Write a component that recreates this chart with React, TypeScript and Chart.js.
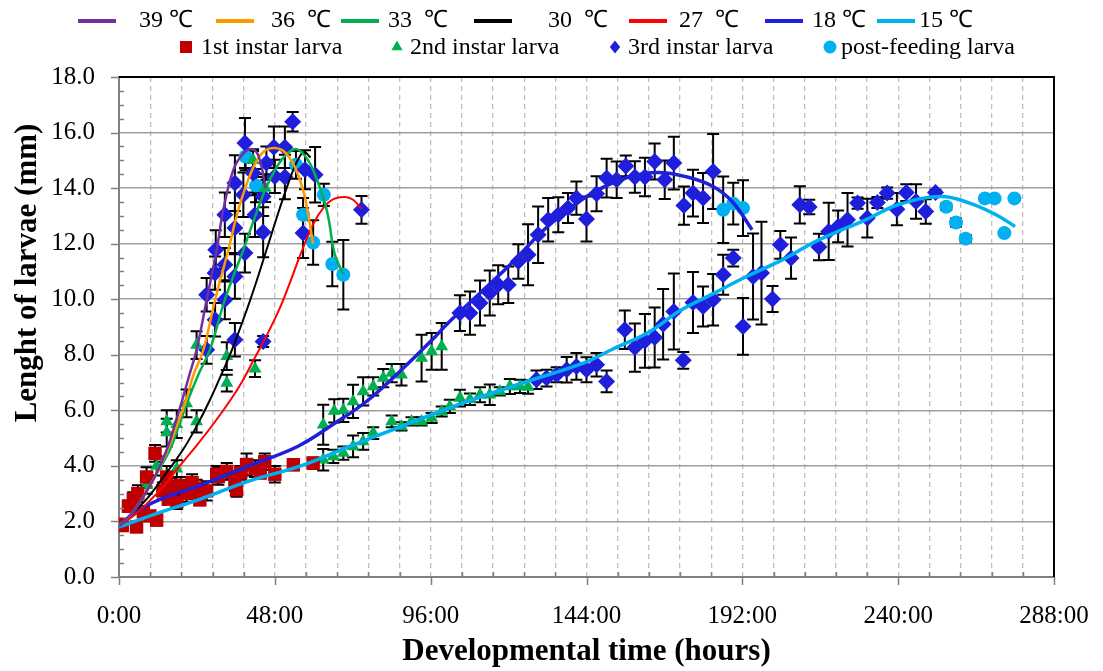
import React, { useEffect, useRef } from 'react';
import { Chart, registerables } from 'chart.js';

Chart.register(...registerables);

const SERIF = '"Liberation Serif", "Times New Roman", Times, serif';

// ---------- axes ----------
const X_MAX = 288;
const X_MINOR = 9.6;
const X_MAJOR = 48;
const Y_MAX = 18;
const Y_STEP = 2;
const Y_MINOR = 0.5;
const xTitle = 'Developmental time (hours)';
const yTitle = 'Lenght of larvae (mm)';

// ---------- legend ----------
const tempLabels = ['39 ℃', '36  ℃', '33  ℃', '30  ℃', '27  ℃', '18 ℃', '15 ℃'];
const tempColors = ['#7030A0', '#FF9900', '#00B050', '#000000', '#FF0000', '#2020D8', '#00B0F0'];
const stageLabels = ['1st instar larva', '2nd instar larva', '3rd instar larva', 'post-feeding larva'];
const stageColors = ['#C00000', '#00B050', '#1F1FDB', '#00B0F0'];
const stageShapes = ['rect', 'triangle', 'rectRot', 'circle'];

type Pt = [number, number];
type EPt = [number, number, number];

// ---------- fitted curves (hours, mm) ----------
const curve39: Pt[] = [[0,1.85],[4,2.3],[7,2.8],[11,3.6],[14.7,4.58],[17,5.4],[19.5,6.38],[21.5,7.2],[23.9,8.18],[27,9.98],[30.1,11.78],[32.1,13.2],[35.2,14.65],[38.3,15.25],[41,15.4],[43,15.15],[45.2,14.0]];
const curve36: Pt[] = [[0,1.85],[4,2.3],[7,2.8],[11,3.6],[15,4.58],[18,5.5],[20.7,6.38],[23,7.3],[26,8.18],[29.6,9.98],[33.7,11.78],[36,12.9],[38.3,13.8],[42,14.9],[45,15.35],[48,15.44],[51,15.3],[54,14.8],[57,13.8],[59.8,12.0]];
const curve33: Pt[] = [[0,1.85],[4,2.3],[7,2.8],[11,3.6],[15.7,4.58],[18,5.3],[21.3,6.38],[24.5,7.3],[28,8.18],[32.6,9.98],[38.3,11.78],[42,13.0],[45.5,14.06],[50,15.0],[54,15.4],[57,15.2],[60,14.6],[64,13.2],[66.5,11.6],[69.1,10.9]];
const curve30: Pt[] = [[0,1.85],[5,2.4],[8.5,2.8],[14,3.65],[19.8,4.6],[24,5.45],[27.7,6.3],[31,7.15],[34.7,8.15],[39.3,9.6],[42.5,10.7],[45.5,11.8],[49.6,13.3],[52.7,14.35],[55,15.0],[57,15.3],[59,15.1]];
const curve27: Pt[] = [[0,1.85],[5,2.25],[9.5,2.75],[14,3.3],[18,3.9],[24,4.75],[29,5.5],[34.5,6.4],[38,7.05],[41.4,7.8],[45.5,8.7],[49.6,9.7],[52.5,10.55],[55.7,11.55],[59.8,12.7],[63,13.3],[66,13.6],[69.6,13.68],[72.1,13.58],[74.7,13.25]];
const curve18: Pt[] = [[0,1.85],[7.5,2.5],[15,2.9],[25,3.3],[40,4.0],[55,4.7],[66,5.5],[76,6.3],[86.5,7.4],[97,8.6],[101,9.1],[111,10.2],[121,11.3],[130,12.4],[138,13.2],[147,13.9],[157,14.4],[166,14.56],[175,14.4],[183,14.06],[189,13.5],[195,12.5]];
const curve15: Pt[] = [[0,1.8],[12,2.3],[25,2.8],[40,3.45],[56,4.0],[71,4.7],[86.5,5.4],[102,6.1],[122,6.9],[143,7.7],[152,8.2],[163,8.8],[173,9.6],[183,10.2],[193,10.8],[204,11.4],[215,12.1],[230,12.86],[240,13.4],[253,13.7],[262,13.46],[270,13.05],[276,12.62]];

// ---------- observations [hours, mm, sd] ----------
const instar1: EPt[] = [[0,1.9,0.1],[1,1.85,0.1],[2.9,2.55,0.2],[4.4,2.8,0.25],[5.4,1.8,0.1],[5.8,3.0,0.3],[7.5,2.35,0.2],[8.5,3.6,0.35],[9.5,2.2,0.1],[11.1,4.45,0.3],[11.6,2.05,0.2],[13.5,3.1,0.3],[14.7,3.6,0.4],[15.2,2.8,0.2],[16.2,3.26,0.3],[17.8,2.7,0.25],[19,3.3,0.3],[20.8,3.0,0.3],[22.5,3.4,0.3],[23.9,3.2,0.3],[24.9,2.78,0.2],[27,3.1,0.35],[30.1,3.7,0.3],[30.6,3.62,0.3],[33.2,3.8,0.3],[35.7,3.4,0.3],[36.2,3.14,0.25],[37.5,3.75,0.25],[39.3,4.05,0.4],[41.9,3.9,0.3],[43.5,3.75,0.2],[44.9,4.15,0.3],[48,3.7,0.3],[53.7,4.04,0.2],[59.8,4.1,0.2]];

const instar2: EPt[] = [[8.5,3.3,0.3],[11.6,4.0,0.35],[14.7,5.2,0.5],[14.7,5.6,0.4],[17.8,5.5,0.5],[17.8,3.9,0.3],[20.8,6.25,0.5],[23.9,5.6,0.4],[23.9,8.35,0.5],[33.2,7.95,0.5],[33.2,6.98,0.3],[41.9,7.5,0.3],[41.3,15.0,0.4],[45,14.0,0.5],
  [62.9,5.48,0.72],[66.3,5.98,0.42],[69.1,6.0,0.42],[72.1,6.32,0.6],[75.2,6.68,0.51],[78.3,6.86,0.33],[81.4,7.16,0.33],[84,7.34,0.33],[87,7.28,0.39],[93.2,7.88,0.84],[96.3,8.12,0.66],[99.4,8.3,0.84],
  [62.9,4.22,0.39],[66,4.34,0.24],[69.1,4.46,0.24],[72.1,4.7,0.39],[75.2,4.88,0.3],[78.3,5.18,0.21],[84,5.6,0.21],[87,5.42,0.15],[90.1,5.6,0.15],[93.2,5.6,0.15],[96.3,5.72,0.18],[99.4,5.96,0.18],[101.9,6.14,0.24],[105,6.44,0.3],[108.1,6.4,0.21],[111.2,6.56,0.27],[114.2,6.56,0.37],[117.3,6.68,0.15],[120.4,6.86,0.27],[123.5,6.86,0.24],[126,6.84,0.24]];

const instar3: EPt[] = [[27,8.18,0.5],[27,10.16,0.6],[29.6,9.26,0.6],[29.6,10.94,0.6],[29.8,11.78,0.7],[32.6,9.98,0.7],[32.6,11.24,0.6],[32.6,13.04,0.8],[35.7,8.54,0.6],[35.7,10.82,0.8],[35.7,12.56,0.9],[35.7,14.18,1.0],[38.3,13.76,0.8],[38.8,11.66,0.7],[38.8,15.62,0.9],[41.3,14.54,0.8],[41.9,13.04,0.8],[44.4,8.48,0.2],[44.4,12.41,0.9],[44.4,13.7,0.7],[45.4,14.9,0.6],[47.7,15.47,0.75],[48,14.42,0.6],[51.1,15.47,0.75],[51.1,14.4,0.8],[53.5,16.39,0.35],[56.7,12.38,0.9],[57.3,14.66,0.7],[60.4,14.48,1.0],[74.7,13.22,0.5],
  [105,9.5,0.64],[108.1,9.5,0.78],[111.2,9.86,0.81],[114.2,10.22,0.81],[116.8,10.52,0.7],[119.9,10.52,0.66],[123,11.36,0.62],[126,11.6,1.1],[129.1,12.32,1.02],[132.2,12.86,0.78],[135.3,13.04,0.63],[138.3,13.28,0.54],[140.9,13.64,0.6],[144,12.89,0.81],[147.1,13.8,0.63],[150.2,14.36,0.7],[153.3,14.3,0.66],[156.1,14.8,0.37],[158.9,14.4,0.57],[162,14.4,0.69],[165,14.96,0.65],[168.1,14.3,0.69],[170.9,14.9,0.95],[174,13.37,0.69],[176.8,13.82,0.84],[179.9,13.64,0.9],[183,14.6,1.35],
  [128.6,7.1,0.33],[131.7,7.16,0.3],[134.8,7.28,0.27],[137.9,7.46,0.46],[140.9,7.58,0.48],[144,7.46,0.45],[147.1,7.64,0.42],[150.2,7.04,0.39],[155.8,8.9,0.69],[158.9,8.26,0.87],[162,8.5,0.97],[165,8.62,1.08],[167.6,9.1,1.27],[170.9,9.56,1.37],[173.8,7.8,0.3],[176.8,9.88,1.1],[179.9,9.74,0.72],[183,9.98,0.93],[186.1,10.88,0.72],[189.2,11.48,0.3],[192.2,9.02,1.02],[195.3,10.82,1.55],[197.9,10.94,1.85],[201.3,10.01,0.47],[203.7,11.96,0.5],[207,11.48,0.74],[209.7,13.4,0.67],[212.6,13.32,0.26],[215.6,11.88,0.48],[218.6,12.44,1.03],[221.5,12.62,0.57],[224.4,12.86,0.96],[227.5,13.46,0.2],[230.5,12.92,0.7],[233.6,13.48,0.2],[236.6,13.82,0.2],[239.6,13.24,0.58],[242.5,13.84,0.3],[245.5,13.52,0.62],[248.5,13.16,0.44],[251.5,13.84,0.1]];

const postFeeding: EPt[] = [[39,15.14,0.5],[42.2,14.09,0.6],[54.5,14.84,0.5],[56.7,13.04,0.6],[59.8,12.04,0.8],[63.1,13.76,0.4],[65.7,11.27,0.8],[69.1,10.88,1.25],
  [186.1,13.22,1.2],[189.2,13.44,0.75],[192.2,13.28,1.0],
  [254.8,13.33,0.12],[257.8,12.76,0.15],[260.8,12.18,0.13],[266.7,13.63,0.05],[269.7,13.63,0.05],[272.7,12.38,0],[275.8,13.63,0]];

const curves = [curve39, curve36, curve33, curve30, curve27, curve18, curve15];
const curveWidths = [2.5, 2.5, 2.5, 2, 2, 3.5, 3.5];
const stages = [instar1, instar2, instar3, postFeeding];
const stageRadius = [9.5, 7.5, 8.5, 7];

const xTickValues = Array.from({ length: Math.round(X_MAX / X_MINOR) + 1 }, (_, i) => Math.round(i * X_MINOR * 10) / 10);

function drawMarker(ctx: CanvasRenderingContext2D, shape: string, x: number, y: number, r: number) {
  ctx.beginPath();
  if (shape === 'rect') {
    const s = r * Math.SQRT1_2;
    ctx.rect(x - s, y - s, 2 * s, 2 * s);
  } else if (shape === 'triangle') {
    ctx.moveTo(x, y - r);
    ctx.lineTo(x + r * 0.866, y + r * 0.5);
    ctx.lineTo(x - r * 0.866, y + r * 0.5);
    ctx.closePath();
  } else if (shape === 'rectRot') {
    ctx.moveTo(x, y - r);
    ctx.lineTo(x + r * 0.8, y);
    ctx.lineTo(x, y + r);
    ctx.lineTo(x - r * 0.8, y);
    ctx.closePath();
  } else {
    ctx.arc(x, y, r, 0, Math.PI * 2);
  }
  ctx.fill();
}

const decorPlugin = {
  id: 'decor',
  beforeDatasetsDraw(chart: any) {
    const { ctx, chartArea } = chart;
    const xs = chart.scales.x;
    const ys = chart.scales.y;
    ctx.save();
    ctx.beginPath();
    ctx.rect(chartArea.left, chartArea.top, chartArea.right - chartArea.left, chartArea.bottom - chartArea.top);
    ctx.clip();
    ctx.strokeStyle = '#000';
    ctx.lineWidth = 2;
    chart.data.datasets.forEach((ds: any) => {
      const errs = ds.errors;
      if (!errs) return;
      ds.data.forEach((p: any, i: number) => {
        const e = errs[i];
        if (!e) return;
        const x = xs.getPixelForValue(p.x);
        const y1 = ys.getPixelForValue(p.y + e);
        const y2 = ys.getPixelForValue(p.y - e);
        ctx.beginPath();
        ctx.moveTo(x, y1); ctx.lineTo(x, y2);
        ctx.moveTo(x - 6, y1); ctx.lineTo(x + 6, y1);
        ctx.moveTo(x - 6, y2); ctx.lineTo(x + 6, y2);
        ctx.stroke();
      });
    });
    ctx.restore();
  },
  afterDraw(chart: any) {
    const { ctx, chartArea } = chart;
    const xs = chart.scales.x;
    const ys = chart.scales.y;
    const { left, right, top, bottom } = chartArea;
    ctx.save();
    // plot border (top/right)
    ctx.strokeStyle = '#000';
    ctx.lineWidth = 2;
    ctx.beginPath();
    ctx.moveTo(left, top); ctx.lineTo(right, top); ctx.lineTo(right, bottom);
    ctx.stroke();
    // axis tick marks
    ctx.strokeStyle = '#808080';
    ctx.lineWidth = 1.5;
    ctx.beginPath();
    for (let v = 0; v <= Y_MAX + 1e-9; v += Y_MINOR) {
      const y = Math.round(ys.getPixelForValue(v)) + 0.5;
      const major = Math.abs(v / Y_STEP - Math.round(v / Y_STEP)) < 1e-6;
      if (major) { ctx.moveTo(left - 8, y); ctx.lineTo(left, y); }
      else { ctx.moveTo(left, y); ctx.lineTo(left + 5, y); }
    }
    xTickValues.forEach((v) => {
      const x = Math.round(xs.getPixelForValue(v)) + 0.5;
      if (v % X_MAJOR === 0) { ctx.moveTo(x, bottom); ctx.lineTo(x, bottom + 8); }
      else { ctx.moveTo(x, bottom); ctx.lineTo(x, bottom - 5); }
    });
    ctx.stroke();

    // y title
    ctx.fillStyle = '#000';
    ctx.font = `bold 31px ${SERIF}`;
    ctx.textAlign = 'center';
    ctx.textBaseline = 'middle';
    ctx.save();
    ctx.translate(28, 273);
    ctx.rotate(-Math.PI / 2);
    ctx.fillText(yTitle, 0, 0);
    ctx.restore();

    // legend row 1: temperature curves
    const lineX = [78, 216, 341, 474, 629, 765, 877];
    const textX = [139, 271, 388, 548, 679, 812, 919];
    ctx.font = `24px ${SERIF}`;
    ctx.textAlign = 'left';
    tempLabels.forEach((t, i) => {
      ctx.strokeStyle = tempColors[i];
      ctx.lineWidth = 4;
      ctx.beginPath();
      ctx.moveTo(lineX[i], 21); ctx.lineTo(lineX[i] + 38, 21);
      ctx.stroke();
      ctx.fillStyle = '#000';
      ctx.fillText(t, textX[i], 21);
    });
    // legend row 2: stages
    const markX = [186, 397, 615, 830];
    const labX = [201, 410, 628, 841];
    stageLabels.forEach((t, i) => {
      ctx.fillStyle = stageColors[i];
      drawMarker(ctx, stageShapes[i], markX[i], 47, i === 0 ? 8.5 : 6.5);
      ctx.fillStyle = '#000';
      ctx.fillText(t, labX[i], 48);
    });
    ctx.restore();
  },
};

export default function App() {
  const ref = useRef<HTMLCanvasElement | null>(null);
  useEffect(() => {
    document.body.style.margin = '0';
    const canvas = ref.current;
    if (!canvas) return;
    const datasets: any[] = [];
    curves.forEach((c, i) => {
      datasets.push({
        label: tempLabels[i],
        data: c.map(([x, y]) => ({ x, y })),
        showLine: true,
        borderColor: tempColors[i],
        backgroundColor: tempColors[i],
        borderWidth: curveWidths[i],
        pointRadius: 0,
        tension: 0.4,
        order: 0,
      });
    });
    stages.forEach((s, i) => {
      datasets.push({
        label: stageLabels[i],
        data: s.map(([x, y]) => ({ x, y })),
        errors: s.map((p) => p[2]),
        showLine: false,
        pointStyle: stageShapes[i],
        pointRadius: stageRadius[i],
        pointBackgroundColor: stageColors[i],
        pointBorderColor: stageColors[i],
        pointBorderWidth: 0,
        order: 1,
      });
    });
    const chart = new Chart(canvas, {
      type: 'scatter',
      data: { datasets },
      plugins: [decorPlugin],
      options: {
        responsive: false,
        animation: false,
        devicePixelRatio: 1,
        layout: { padding: { top: 77, right: 49, left: 0, bottom: 0 }, autoPadding: false },
        plugins: { legend: { display: false }, tooltip: { enabled: false }, title: { display: false } },
        scales: {
          x: {
            type: 'linear',
            min: 0,
            max: X_MAX,
            afterBuildTicks: (scale: any) => { scale.ticks = xTickValues.map((v) => ({ value: v })); },
            afterFit: (scale: any) => { scale.height = 94; scale.paddingLeft = 0; scale.paddingRight = 0; },
            ticks: {
              autoSkip: false,
              maxRotation: 0,
              padding: 24,
              color: '#000',
              font: { family: SERIF, size: 25 },
              callback: (v: any) => (Number(v) % X_MAJOR === 0 ? `${Number(v)}:00` : ''),
            },
            grid: { color: '#C0C0C0', lineWidth: 1.3, drawTicks: false },
            border: { display: true, color: '#808080', width: 2, dash: [5, 4] },
            title: { display: true, text: xTitle, color: '#000', font: { family: SERIF, size: 31, weight: 'bold' }, padding: { top: 0, bottom: 0 } },
          },
          y: {
            min: 0,
            max: Y_MAX,
            afterFit: (scale: any) => { scale.width = 119; scale.paddingTop = 0; scale.paddingBottom = 0; },
            ticks: {
              stepSize: Y_STEP,
              padding: 24,
              color: '#000',
              font: { family: SERIF, size: 25 },
              callback: (v: any) => Number(v).toFixed(1),
            },
            grid: { color: '#A0A0A0', lineWidth: 1.5, drawTicks: false },
            border: { display: true, color: '#808080', width: 2 },
          },
        },
      } as any,
    });
    return () => chart.destroy();
  }, []);
  return (
    <div style={{ position: 'absolute', left: 0, top: 0, width: 1103, height: 671, background: '#fff' }}>
      <canvas ref={ref} width={1103} height={671} style={{ display: 'block' }} />
    </div>
  );
}
